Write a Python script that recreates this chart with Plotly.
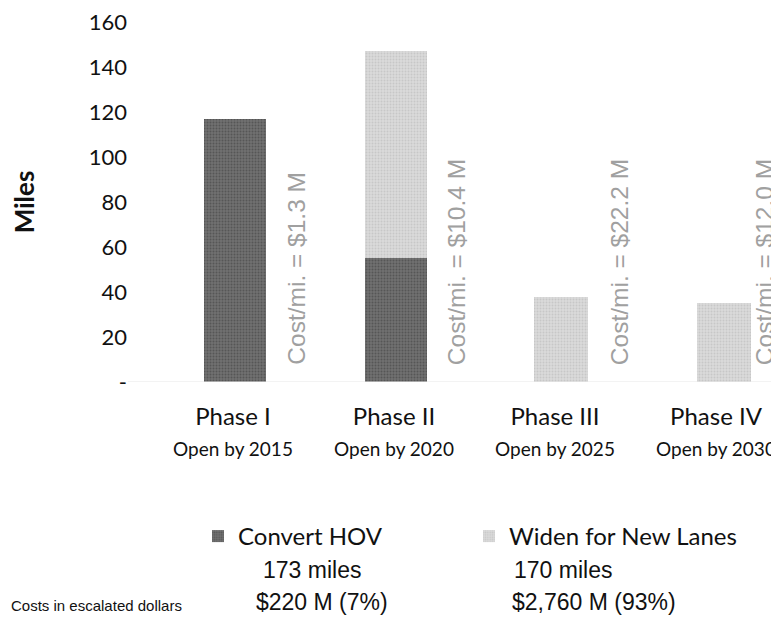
import plotly.graph_objects as go

phases = ["Phase I", "Phase II", "Phase III", "Phase IV"]
open_years = ["Open by 2015", "Open by 2020", "Open by 2025", "Open by 2030"]
convert_hov = [117, 55, 0, 0]
widen_new = [0, 92, 38, 35]
cost_per_mile = ["Cost/mi. = $1.3 M", "Cost/mi. = $10.4 M", "Cost/mi. = $22.2 M", "Cost/mi. = $12.0 M"]
y_ticks = [0, 20, 40, 60, 80, 100, 120, 140, 160]
y_ticktext = ["-", "20", "40", "60", "80", "100", "120", "140", "160"]
legend_names = ["Convert HOV", "Widen for New Lanes"]
legend_miles = ["173 miles", "170 miles"]
legend_cost = ["$220 M (7%)", "$2,760 M (93%)"]
footnote = "Costs in escalated dollars"

CAL = "Lato, 'Open Sans', sans-serif"
ARI = "'Liberation Sans', Arial, sans-serif"

xs = list(range(len(phases)))
bar_w = [0.39, 0.39, 0.34, 0.33]
bar_nudge = [0.012, 0.012, 0.037, 0.05]
bar_off = [-w / 2 + n for w, n in zip(bar_w, bar_nudge)]
label_shift = [64, 62, 64, 48]
ticktext = [f"{p}<br><span style='font-size:19px'>{o}</span>" for p, o in zip(phases, open_years)]

# page has an 8px body margin; figure is sized to fit the window
OFF = 8
W, H = 771, 611
L, R, T, B = 120, 0, 14, 237
pw = W - L - R
ph = H - T - B

fig = go.Figure()
fig.add_trace(go.Bar(
    x=xs, y=convert_hov, name=legend_names[0], width=bar_w, offset=bar_off,
    marker=dict(color="#6a6a6a", line=dict(width=0),
                pattern=dict(shape=".", fgcolor="#3c3c3c", bgcolor="#707070", size=3, solidity=0.35)),
))
fig.add_trace(go.Bar(
    x=xs, y=widen_new, name=legend_names[1], width=bar_w, offset=bar_off,
    marker=dict(color="#d2d2d2", line=dict(width=0),
                pattern=dict(shape=".", fgcolor="#b4b4b4", bgcolor="#dadada", size=3, solidity=0.35)),
))

for i, txt in enumerate(cost_per_mile):
    fig.add_annotation(x=xs[i], y=6.6, text=txt, textangle=-90, showarrow=False,
                       yanchor="bottom", xshift=label_shift[i],
                       font=dict(family=ARI, size=24.5, color="#a0a0a0"))

def px_x(p):
    return (p - OFF - L) / pw

def px_y(p):
    return -(p - OFF - (T + ph)) / ph

miles_x = [261, 512]
cost_x = [254, 510]
for j in range(2):
    fig.add_annotation(xref="paper", yref="paper", x=px_x(miles_x[j]), y=px_y(570), xanchor="left",
                       yanchor="middle", text=legend_miles[j], showarrow=False,
                       font=dict(family=ARI, size=23, color="#111"))
    fig.add_annotation(xref="paper", yref="paper", x=px_x(cost_x[j]), y=px_y(602), xanchor="left",
                       yanchor="middle", text=legend_cost[j], showarrow=False,
                       font=dict(family=ARI, size=23, color="#111"))

fig.add_annotation(xref="paper", yref="paper", x=px_x(9), y=px_y(605), xanchor="left",
                   yanchor="middle", text=footnote, showarrow=False,
                   font=dict(family=ARI, size=15, color="#111"))

r0 = -(233 - OFF - L) / 161.0
r1 = r0 + pw / 161.0

fig.update_layout(
    width=W, height=H,
    margin=dict(l=L, r=R, t=T, b=B, autoexpand=False),
    barmode="stack",
    plot_bgcolor="white", paper_bgcolor="white",
    showlegend=True,
    legend=dict(orientation="h", x=px_x(198), y=px_y(514), xanchor="left", yanchor="top",
                font=dict(family=CAL, size=24, color="#111"),
                entrywidth=226, entrywidthmode="pixels", itemwidth=30,
                traceorder="normal"),
    xaxis=dict(tickmode="array", tickvals=xs, ticktext=ticktext, range=[r0, r1],
               showgrid=False, zeroline=False, showline=False, ticks="",
               automargin=False, ticklabelstandoff=18,
               tickfont=dict(family=CAL, size=24, color="#111")),
    yaxis=dict(title=dict(text="<b>Miles</b>", font=dict(family=CAL, size=26, color="#111"), standoff=48),
               tickmode="array", tickvals=y_ticks, ticktext=y_ticktext, range=[0, 160],
               showgrid=False, zeroline=False, showline=False, ticks="",
               automargin=False, ticklabeloverflow="allow",
               tickfont=dict(family=CAL, size=22, color="#111")),
)
fig.add_hline(y=0, line=dict(color="#e6e6e6", width=1))

fig.write_html("out.html")
